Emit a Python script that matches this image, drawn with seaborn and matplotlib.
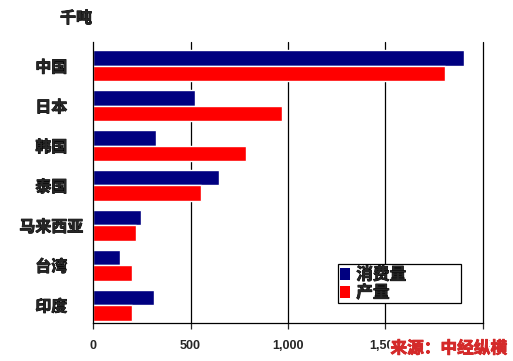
import pandas as pd
import numpy as np
import matplotlib
matplotlib.use("Agg")
import matplotlib.pyplot as plt
import matplotlib.patheffects as pe
from matplotlib.patches import Patch
import seaborn as sns

countries = ["中国", "日本", "韩国", "泰国", "马来西亚", "台湾", "印度"]
consumption = [1905, 521, 321, 645, 244, 137, 311]
production = [1803, 968, 783, 552, 222, 198, 198]
series_names = ["消费量", "产量"]
x_ticks = [0, 500, 1000, 1500, 2000]
x_labels = ["0", "500", "1,000", "1,500", "2,000"]

sns.set_style("white")
plt.rcParams["font.family"] = ["Noto Sans CJK SC", "DejaVu Sans"]
plt.rcParams["font.weight"] = "bold"

# fake heavier strokes for the CJK text
bold_fx = [pe.withStroke(linewidth=0.6, foreground="black")]

df = pd.DataFrame({
    "country": countries * 2,
    "value": consumption + production,
    "series": [series_names[0]] * len(countries) + [series_names[1]] * len(countries),
})

fig = plt.figure(figsize=(5.13, 3.61), dpi=100)
ax = fig.add_axes([0.1813, 0.1053, 0.7602, 0.7784])

colors = ["#000080", "#ff0000"]
sns.barplot(data=df, y="country", x="value", hue="series", orient="h",
            palette=colors, saturation=1, width=0.78, ax=ax, legend=False)

ax.set_xlim(0, 2000)
ax.set_ylim(6.45, -0.6)
ax.set_xticks(x_ticks)
ax.set_xticklabels(x_labels, fontsize=9, fontweight="bold", family="Liberation Sans")
ax.set_yticklabels(countries, fontsize=11.5, fontweight="bold")
for lbl in ax.get_yticklabels():
    lbl.set_ha("center")
    lbl.set_path_effects(bold_fx)
ax.set_xlabel("")
ax.set_ylabel("")

for v in x_ticks[1:]:
    ax.axvline(v, color="black", lw=0.9, zorder=0, clip_on=False)

for s in ["top", "right"]:
    ax.spines[s].set_visible(False)
ax.spines["left"].set_color("black")
ax.spines["bottom"].set_color("black")
ax.spines["left"].set_linewidth(0.9)
ax.spines["bottom"].set_linewidth(0.9)
ax.tick_params(axis="x", direction="out", length=4, width=0.9, pad=8, bottom=True)
ax.tick_params(axis="y", length=0, pad=30)

handles = [Patch(facecolor=c, edgecolor="none") for c in colors]
leg = ax.legend(handles, series_names, loc="upper left",
                bbox_to_anchor=(0.628, 0.05, 0.315, 0.16), mode="expand",
                fancybox=False, framealpha=1, edgecolor="black",
                prop={"size": 12, "weight": "bold"},
                handlelength=0.6, handleheight=0.7, handletextpad=0.4,
                borderaxespad=0, borderpad=0.1, labelspacing=0.0)
leg.get_frame().set_linewidth(0.9)
for t in leg.get_texts():
    t.set_path_effects(bold_fx)

fig.text(0.117, 0.95, "千吨", fontsize=11.5, fontweight="bold", ha="left", va="center",
         path_effects=bold_fx)

fig.text(0.988, 0.035, "来源：中经纵横", fontsize=12, fontweight="bold", style="italic",
         color="#d42a2a", ha="right", va="center", zorder=10,
         path_effects=[pe.withStroke(linewidth=3, foreground="white"),
                       pe.withStroke(linewidth=0.6, foreground="#d42a2a")])

fig.savefig("out.png", dpi=100)
